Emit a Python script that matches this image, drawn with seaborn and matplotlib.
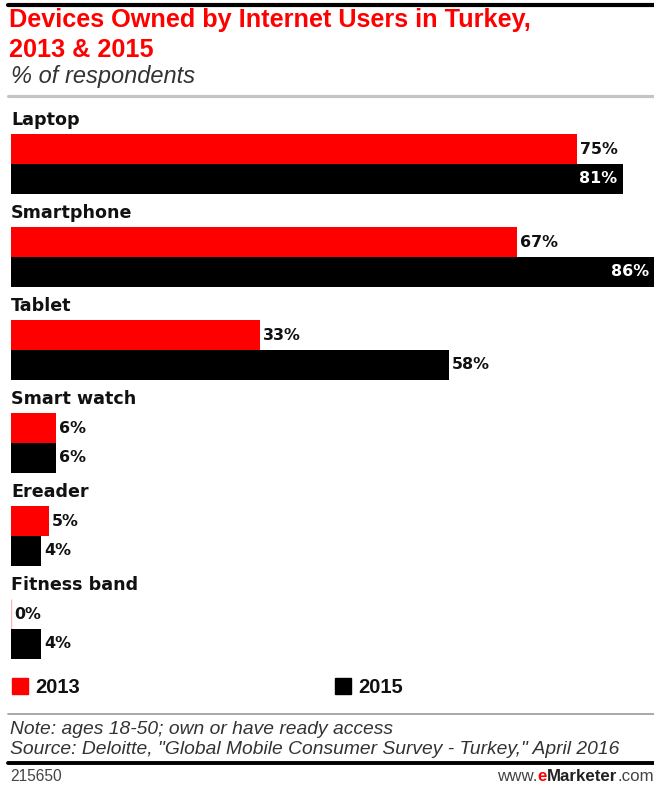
import matplotlib
matplotlib.use("Agg")
import matplotlib.pyplot as plt
import seaborn as sns
import pandas as pd
from matplotlib.lines import Line2D
from matplotlib.patches import Rectangle

# ---------------- data ----------------
devices = ["Laptop", "Smartphone", "Tablet", "Smart watch", "Ereader", "Fitness band"]
years = ["2013", "2015"]
values_2013 = [75, 67, 33, 6, 5, 0]
values_2015 = [81, 86, 58, 6, 4, 4]
year_colors = ["#ff0000", "#000000"]

title_lines = ["Devices Owned by Internet Users in Turkey,", "2013 & 2015"]
subtitle = "% of respondents"
note = "Note: ages 18-50; own or have ready access"
source = 'Source: Deloitte, "Global Mobile Consumer Survey - Turkey," April 2016'
chart_id = "215650"

# ---------------- setup ----------------
W, H = 654, 785
sns.set_theme(style="white")
plt.rcParams["font.family"] = ["DejaVu Sans"]
ARIAL = ["Liberation Sans", "DejaVu Sans"]

df = pd.DataFrame({
    "device": devices * 2,
    "year": [years[0]] * len(devices) + [years[1]] * len(devices),
    "value": values_2013 + values_2015,
})

fig = plt.figure(figsize=(W / 100, H / 100), dpi=100)
fig.patch.set_facecolor("white")


def fx(px):
    return px / W


def fy(py):
    return 1 - py / H


ax_left, ax_top, ax_bot = 11, 100, 672
px_per_pct = 7.55
group_px = 93.0
first_center = 164.0

ax = fig.add_axes([fx(ax_left), fy(ax_bot), 1 - fx(ax_left), (ax_bot - ax_top) / H])
sns.barplot(data=df, y="device", x="value", hue="year", order=devices,
            hue_order=years, palette=year_colors, orient="h", width=0.645,
            dodge=True, legend=False, ax=ax, linewidth=0, saturation=1)
xmax = (W - ax_left) / px_per_pct
ax.set_xlim(0, xmax)
ax.set_ylim((ax_bot - first_center) / group_px, (ax_top - first_center) / group_px)
ax.set_axis_off()

# zero-value bars show as a faint hairline
for cont in ax.containers:
    for bar in cont:
        if bar.get_width() == 0:
            bar.set_edgecolor("#ffb4b4")
            bar.set_linewidth(1.0)

# category labels above each group
for i, name in enumerate(devices):
    ax.text(0, i - 44 / group_px, name, ha="left", va="center",
            fontsize=12.6, fontweight="bold", color="#111111", clip_on=False)

# value labels
label_px = 44
for cont in ax.containers:
    for bar in cont:
        w = bar.get_width()
        yc = bar.get_y() + bar.get_height() / 2
        end_px = ax_left + w * px_per_pct
        txt = f"{w:.0f}%"
        if end_px + label_px > W:
            ax.annotate(txt, xy=(min(w, xmax), yc), xytext=(-5, 0),
                        textcoords="offset pixels", ha="right", va="center",
                        fontsize=11.4, fontweight="bold", color="white",
                        annotation_clip=False)
        else:
            ax.annotate(txt, xy=(w, yc), xytext=(3, 0),
                        textcoords="offset pixels", ha="left", va="center",
                        fontsize=11.4, fontweight="bold", color="#111111",
                        annotation_clip=False)

# ---------------- header ----------------
fig.add_artist(Line2D([fx(8), 1], [fy(5), fy(5)], color="black", lw=3.0,
                      transform=fig.transFigure))
fig.text(fx(9), fy(27), title_lines[0], color="#ff0000", fontsize=18.2,
         fontweight="bold", family=ARIAL, va="baseline", ha="left")
fig.text(fx(9), fy(57), title_lines[1], color="#ff0000", fontsize=18.2,
         fontweight="bold", family=ARIAL, va="baseline", ha="left")
fig.text(fx(11), fy(83), subtitle, color="#333333", fontsize=17,
         style="italic", family=ARIAL, va="baseline", ha="left")
fig.add_artist(Line2D([fx(8), 1], [fy(96), fy(96)], color="#c4c4c4", lw=2.3,
                      transform=fig.transFigure))

# ---------------- legend ----------------
leg_x = [12, 335]
for lx, yr, col in zip(leg_x, years, year_colors):
    fig.add_artist(Rectangle((fx(lx), fy(694)), 16 / W, 16 / H, color=col,
                             transform=fig.transFigure))
    fig.text(fx(lx + 23), fy(693), yr, color="#111111", fontsize=14.5,
             fontweight="bold", family=ARIAL, va="baseline", ha="left")

# ---------------- footer ----------------
fig.add_artist(Line2D([fx(8), 1], [fy(714), fy(714)], color="#999999", lw=1.2,
                      transform=fig.transFigure))
fig.text(fx(10), fy(734), note, color="#333333", fontsize=13.9, style="italic",
         family=ARIAL, va="baseline", ha="left")
fig.text(fx(10), fy(754), source, color="#333333", fontsize=13.9, style="italic",
         family=ARIAL, va="baseline", ha="left")
fig.add_artist(Line2D([fx(8), 1], [fy(763), fy(763)], color="black", lw=2.8,
                      transform=fig.transFigure))
fig.text(fx(10), fy(781), chart_id, color="#444444", fontsize=11.2,
         family=ARIAL, va="baseline", ha="left")

pieces = [("www.", "normal", "#444444"), ("e", "bold", "#ff0000"),
          ("Marketer", "bold", "#222222"), (".com", "normal", "#444444")]
prev = fig.text(fx(497), fy(781), pieces[0][0], color=pieces[0][2],
                fontsize=12.2, fontweight=pieces[0][1], family=ARIAL,
                va="baseline", ha="left")
for s, wgt, col in pieces[1:]:
    prev = fig.add_artist(matplotlib.text.Annotation(
        s, xy=(1, 0), xycoords=prev, xytext=(0, 0), textcoords="offset pixels",
        va="bottom", ha="left", color=col, fontsize=12.2, fontweight=wgt,
        family=ARIAL, annotation_clip=False))

fig.savefig("out.png", dpi=100, facecolor="white")
